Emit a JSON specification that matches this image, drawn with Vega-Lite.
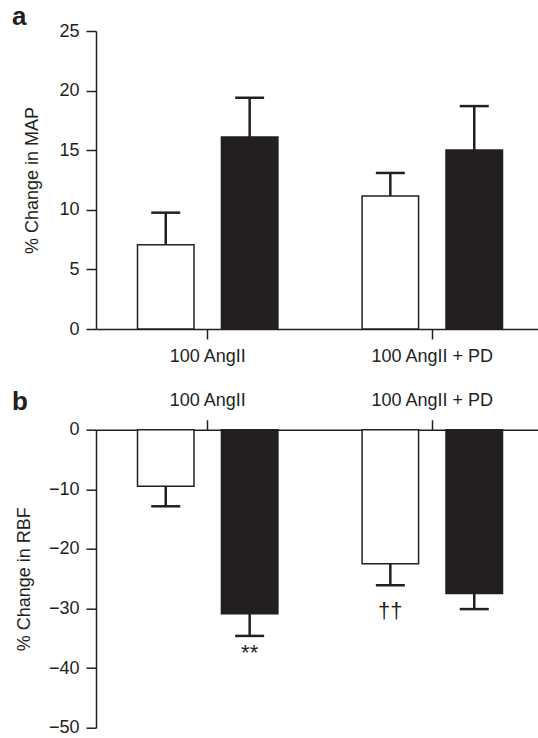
{
  "$schema": "https://vega.github.io/schema/vega-lite/v6.json",
  "padding": {"left": 12, "top": 4, "right": 0, "bottom": 0},
  "background": "#ffffff",
  "config": {
    "view": {"stroke": null},
    "font": "Liberation Sans",
    "axis": {
      "domainColor": "#231f20", "domainWidth": 1.5,
      "tickColor": "#231f20", "tickWidth": 1.5, "tickSize": 10,
      "labelColor": "#231f20", "labelFontSize": 18, "labelFont": "Liberation Sans",
      "titleFont": "Liberation Sans", "titleFontSize": 18, "titleFontWeight": "normal", "titleColor": "#231f20",
      "grid": false
    },
    "title": {"font": "Liberation Sans", "fontSize": 26, "fontWeight": "bold", "color": "#231f20", "anchor": "start", "frame": "group", "baseline": "alphabetic", "offset": 0}
  },
  "datasets": {
    "map": [
      {"cond": "100 AngII", "series": "Series 1", "value": 7.07, "errEnd": 9.76},
      {"cond": "100 AngII", "series": "Series 2", "value": 16.1, "errEnd": 19.4},
      {"cond": "100 AngII + PD", "series": "Series 1", "value": 11.16, "errEnd": 13.09},
      {"cond": "100 AngII + PD", "series": "Series 2", "value": 15.02, "errEnd": 18.7}
    ],
    "rbf": [
      {"cond": "100 AngII", "series": "Series 1", "value": -9.5, "errEnd": -12.85, "sig": ""},
      {"cond": "100 AngII", "series": "Series 2", "value": -30.9, "errEnd": -34.6, "sig": "**"},
      {"cond": "100 AngII + PD", "series": "Series 1", "value": -22.5, "errEnd": -26.1, "sig": "††"},
      {"cond": "100 AngII + PD", "series": "Series 2", "value": -27.5, "errEnd": -30.1, "sig": ""}
    ]
  },
  "bounds": "flush",
  "spacing": 100.7,
  "vconcat": [
    {
      "width": 442,
      "height": 298,
      "title": {"text": "a", "dx": -84, "dy": 12.3},
      "data": {"name": "map"},
      "encoding": {
        "x": {"field": "cond", "type": "nominal", "sort": ["100 AngII", "100 AngII + PD"],
              "scale": {"paddingInner": 0.2, "paddingOuter": 0.084, "align": 0.5795},
              "axis": {"title": null, "labelAngle": 0, "orient": "bottom", "labelPadding": 8.5}},
        "xOffset": {"field": "series", "type": "nominal", "sort": ["Series 1", "Series 2"],
                    "scale": {"paddingInner": 0.327, "paddingOuter": 0.234}}
      },
      "layer": [
        {
          "mark": {"type": "bar", "stroke": "#231f20", "strokeWidth": 1.5},
          "encoding": {
            "y": {"field": "value", "type": "quantitative",
                  "scale": {"domain": [0, 25], "nice": false},
                  "axis": {"title": "% Change in MAP", "values": [0, 5, 10, 15, 20, 25], "labelPadding": 7, "titlePadding": 17}},
            "fill": {"field": "series", "type": "nominal", "scale": {"domain": ["Series 1", "Series 2"], "range": ["#ffffff", "#231f20"]}, "legend": null}
          }
        },
        {
          "mark": {"type": "rule", "color": "#231f20", "strokeWidth": 2.5},
          "encoding": {"y": {"field": "value", "type": "quantitative"}, "y2": {"field": "errEnd"}}
        },
        {
          "mark": {"type": "tick", "color": "#231f20", "thickness": 2.5, "size": 29, "opacity": 1},
          "encoding": {"y": {"field": "errEnd", "type": "quantitative"}}
        }
      ]
    },
    {
      "width": 442,
      "height": 298,
      "title": {"text": "b", "dx": -84, "dy": 27.7},
      "data": {"name": "rbf"},
      "encoding": {
        "x": {"field": "cond", "type": "nominal", "sort": ["100 AngII", "100 AngII + PD"],
              "scale": {"paddingInner": 0.2, "paddingOuter": 0.084, "align": 0.5795},
              "axis": {"title": null, "labelAngle": 0, "orient": "top", "labelPadding": 10}},
        "xOffset": {"field": "series", "type": "nominal", "sort": ["Series 1", "Series 2"],
                    "scale": {"paddingInner": 0.327, "paddingOuter": 0.234}}
      },
      "layer": [
        {
          "mark": {"type": "bar", "stroke": "#231f20", "strokeWidth": 1.5},
          "encoding": {
            "y": {"field": "value", "type": "quantitative",
                  "scale": {"domain": [-50, 0], "nice": false},
                  "axis": {"title": "% Change in RBF", "values": [-50, -40, -30, -20, -10, 0], "labelPadding": 7, "titlePadding": 15}},
            "fill": {"field": "series", "type": "nominal", "scale": {"domain": ["Series 1", "Series 2"], "range": ["#ffffff", "#231f20"]}, "legend": null}
          }
        },
        {
          "mark": {"type": "rule", "color": "#231f20", "strokeWidth": 2.5},
          "encoding": {"y": {"field": "value", "type": "quantitative"}, "y2": {"field": "errEnd"}}
        },
        {
          "mark": {"type": "tick", "color": "#231f20", "thickness": 2.5, "size": 29, "opacity": 1},
          "encoding": {"y": {"field": "errEnd", "type": "quantitative"}}
        },
        {
          "transform": [{"filter": "datum.sig == '**'"}],
          "mark": {"type": "text", "baseline": "top", "dy": 7, "fontSize": 22, "color": "#231f20"},
          "encoding": {"y": {"field": "errEnd", "type": "quantitative"}, "text": {"field": "sig"}}
        },
        {
          "transform": [{"filter": "datum.sig == '††'"}],
          "mark": {"type": "text", "baseline": "top", "dy": 16, "fontSize": 22, "color": "#231f20"},
          "encoding": {"y": {"field": "errEnd", "type": "quantitative"}, "text": {"field": "sig"}}
        }
      ]
    }
  ]
}
